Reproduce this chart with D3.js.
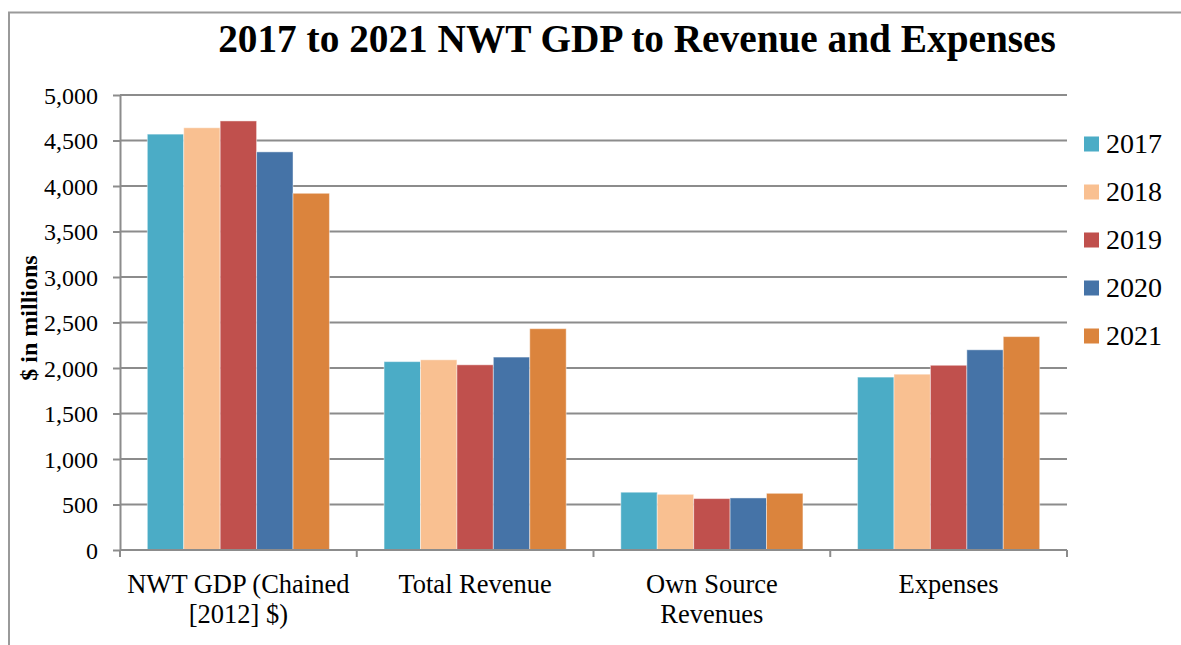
<!DOCTYPE html>
<html>
<head>
<meta charset="utf-8">
<title>2017 to 2021 NWT GDP to Revenue and Expenses</title>
<style>
body {
  margin: 0;
  background: #fff;
  font-family: "Liberation Serif", "DejaVu Serif", serif;
}

svg {
  display: block;
}

.grid line {
  stroke: #8c8c8c;
  stroke-width: 2px;
}

.axis path, .axis line {
  stroke: #8c8c8c;
  stroke-width: 2px;
}

.axis text {
  font-family: "Liberation Serif", serif;
  fill: #000;
}
</style>
<script src="https://d3js.org/d3.v7.min.js"></script>
</head>
<body>
<script>
const categories = [['NWT GDP (Chained', '[2012] $)'], ['Total Revenue'], ['Own Source', 'Revenues'], ['Expenses']];
const years = ['2017', '2018', '2019', '2020', '2021'];
const gdp = [4570, 4640, 4715, 4375, 3920];
const totalRevenue = [2070, 2090, 2035, 2120, 2432];
const ownSource = [635, 612, 565, 572, 623];
const expenses = [1900, 1932, 2030, 2200, 2345];
const yTicks = [0, 500, 1000, 1500, 2000, 2500, 3000, 3500, 4000, 4500, 5000];
const colors = ['#4BACC6', '#F9C091', '#C0504D', '#4573A7', '#DB843D'];

const width = 1181,
  height = 645;

const margin = {top: 95, left: 120, right: 114, bottom: 95};
const plotW = width - margin.left - margin.right,
  plotH = height - margin.top - margin.bottom;

const series = [gdp, totalRevenue, ownSource, expenses];
const catKeys = categories.map(c => c.join(' '));

let svg = d3.select('body').append('svg')
  .attr('width', width)
  .attr('height', height);

// outer chart border
svg.append('rect')
  .attr('x', 9)
  .attr('y', 12.5)
  .attr('width', width + 20)
  .attr('height', height + 20)
  .attr('fill', 'none')
  .attr('stroke', '#9a9a9a')
  .attr('stroke-width', 2);

// title, sized to the width it takes in the picture
let title = svg.append('text')
  .attr('x', 637)
  .attr('y', 52)
  .attr('text-anchor', 'middle')
  .style('font-family', '"Liberation Serif", serif')
  .style('font-weight', 'bold')
  .style('font-size', '40px')
  .text('2017 to 2021 NWT GDP to Revenue and Expenses');
let tw = title.node().getComputedTextLength();
title.style('font-size', (40 * 838 / tw) + 'px');

let g = svg.append('g')
  .attr('transform', 'translate(' + margin.left + ',' + margin.top + ')');

let y = d3.scaleLinear()
  .domain([0, 5000])
  .range([plotH, 0]);

let x0 = d3.scaleBand()
  .domain(catKeys)
  .range([0, plotW])
  .padding(0);

let x1 = d3.scaleBand()
  .domain(years)
  .range([0, x0.bandwidth()])
  .paddingInner(0)
  .paddingOuter(0.75);

// gridlines
g.append('g')
  .attr('class', 'grid')
  .selectAll('line')
  .data(yTicks.slice(1))
  .enter().append('line')
    .attr('x1', 0)
    .attr('x2', plotW)
    .attr('y1', d => y(d))
    .attr('y2', d => y(d));

// y axis
let yAxis = g.append('g')
  .attr('class', 'axis y')
  .call(d3.axisLeft(y).tickValues(yTicks).tickFormat(d3.format(',')).tickSizeInner(7).tickSizeOuter(0).tickPadding(15));
yAxis.selectAll('text')
  .style('font-size', '24px')
  .attr('dy', '0.34em');

// bars
let groups = g.append('g')
  .selectAll('g')
  .data(series)
  .enter().append('g')
    .attr('transform', (d, i) => 'translate(' + x0(catKeys[i]) + ',0)');

groups.selectAll('rect')
  .data(d => d)
  .enter().append('rect')
    .attr('x', (d, i) => x1(years[i]))
    .attr('width', x1.bandwidth())
    .attr('y', d => y(d))
    .attr('height', d => y(0) - y(d))
    .attr('fill', (d, i) => colors[i])
    .attr('stroke', 'rgba(255,255,255,0.45)')
    .attr('stroke-width', 1);

// x axis with ticks at the category boundaries
let xAxis = g.append('g')
  .attr('class', 'axis x')
  .attr('transform', 'translate(0,' + plotH + ')');

xAxis.append('line')
  .attr('x1', 0)
  .attr('x2', plotW)
  .attr('y1', 0)
  .attr('y2', 0);

let bounds = catKeys.map(k => x0(k)).concat([plotW]);
xAxis.selectAll('line.tick')
  .data(bounds)
  .enter().append('line')
    .attr('class', 'tick')
    .attr('x1', d => d)
    .attr('x2', d => d)
    .attr('y1', 0)
    .attr('y2', 7);

let labels = xAxis.selectAll('text.cat')
  .data(categories)
  .enter().append('text')
    .attr('class', 'cat')
    .attr('text-anchor', 'middle')
    .style('font-size', '26.5px')
    .attr('transform', (d, i) => 'translate(' + (x0(catKeys[i]) + x0.bandwidth() / 2) + ',43)');

labels.selectAll('tspan')
  .data(d => d)
  .enter().append('tspan')
    .attr('x', 0)
    .attr('y', (d, i) => i * 30)
    .text(d => d);

// y axis title
svg.append('text')
  .attr('transform', 'translate(37,318) rotate(-90)')
  .attr('text-anchor', 'middle')
  .style('font-weight', 'bold')
  .style('font-size', '24px')
  .text('$ in millions');

// legend
let legend = svg.append('g')
  .selectAll('g')
  .data(years)
  .enter().append('g')
    .attr('transform', (d, i) => 'translate(1084,' + (144 + i * 48) + ')');

legend.append('rect')
  .attr('x', 0)
  .attr('y', -7.5)
  .attr('width', 15)
  .attr('height', 15)
  .attr('fill', (d, i) => colors[i]);

legend.append('text')
  .attr('x', 22)
  .attr('y', 9)
  .style('font-size', '28px')
  .text(d => d);
</script>
</body>
</html>
